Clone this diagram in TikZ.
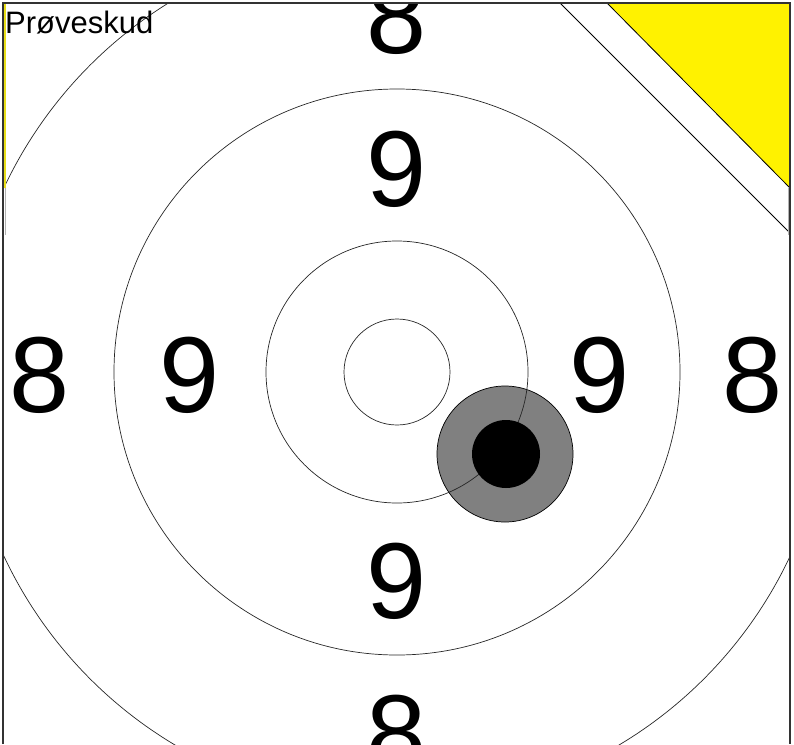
\documentclass[tikz,border=0pt]{standalone}
\usepackage{fontspec}
\setmainfont{Liberation Sans}
\usetikzlibrary{positioning}

\begin{document}
\begin{tikzpicture}[x=1pt, y=-1pt,
    ring/.style={draw=black!85, line width=0.7pt},
    score/.style={inner sep=0pt, font=\fontsize{108}{108}\selectfont}]
    \useasboundingbox (0,0) rectangle (794,744);
    \begin{scope}
        \clip (3,3) rectangle (790,744);
        % Shot
        \filldraw[fill=gray, draw=black, line width=0.7pt] (505,454) circle (68);
        % Rings
        \foreach \r in {53,131,283,434}
            \draw[ring] (397,372) circle (\r);
        \fill (506,454) circle (34);
        % Trial shot corner
        \filldraw[fill=white, draw=black, line width=0.8pt] (560,3) -- (790,233) -- (790,3) -- cycle;
        \filldraw[fill=yellow, draw=black, line width=0.8pt] (607,3) -- (790,3) -- (790,188) -- cycle;
        % Ring values
        \node[score] (ninewest) at (190,375) {9};
        \node[score] (nineeast) at (600,375) {9};
        \node[score] (ninenorth) at (397,169) {9};
        \node[score] (ninesouth) at (397,581) {9};
        \node[score] (eightwest) at (39.5,375) {8};
        \node[score] (eighteast) at (753,375) {8};
        \node[score] (eightnorth) at (397,16) {8};
        \node[score] (eightsouth) at (397,733) {8};
    \end{scope}
    % Frame
    \fill[yellow!90!black] (3.5,3) rectangle (5.5,188);
    \draw[gray!60] (5,188) -- (5,235);
    \draw[gray!60] (788.5,188) -- (788.5,235);
    \draw[line width=1.4pt, black!80] (3,744) -- (3,3) -- (790,3) -- (790,744);
    \node[anchor=base west, inner sep=0pt, font=\fontsize{31}{31}\selectfont] (trial) at (5,33) {Prøveskud};
\end{tikzpicture}
\end{document}
